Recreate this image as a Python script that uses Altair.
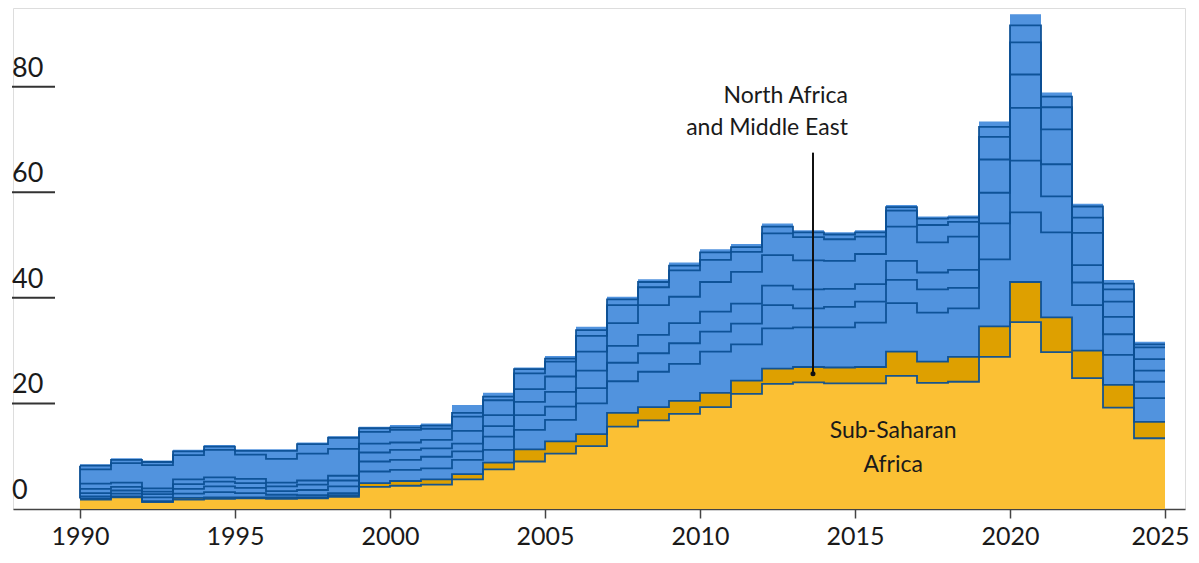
import altair as alt
import pandas as pd

years = list(range(1990, 2025))

# cumulative boundaries (top to bottom)
top = [8.5, 9.6, 9.2, 11.2, 12.1, 11.3, 11.3, 12.6, 13.8, 15.6, 15.9, 16.2, 19.7, 22.0, 26.8, 29.0, 34.5,
       40.2, 43.5, 46.7, 49.2, 50.2, 54.1, 52.8, 52.4, 52.8, 57.6, 55.4, 55.6, 73.4, 93.7, 78.9, 57.8, 43.4, 31.7]
l6 = [8.2, 9.3, 8.9, 10.9, 11.8, 11.0, 11.0, 12.3, 13.5, 15.3, 15.4, 15.8, 18.2, 21.3, 26.5, 28.5, 33.9,
      39.7, 43.0, 46.1, 48.6, 49.6, 53.5, 52.4, 52.0, 52.4, 57.2, 55.0, 55.2, 72.4, 91.6, 78.1, 57.3, 42.7, 31.2]
l5 = [7.5, 8.7, 8.3, 10.2, 11.2, 10.3, 9.5, 10.5, 11.4, 14.6, 15.0, 15.2, 17.5, 20.6, 25.7, 27.9, 32.8,
      38.6, 42.0, 45.2, 47.2, 48.7, 52.2, 51.5, 51.1, 51.6, 56.5, 53.8, 54.4, 70.5, 88.4, 76.1, 55.2, 41.6, 30.6]
l4 = [4.8, 5.0, 3.9, 5.6, 6.0, 5.7, 5.0, 5.4, 6.3, 12.4, 12.6, 13.1, 14.8, 17.8, 22.7, 25.1, 29.8,
      35.2, 38.6, 40.2, 43.0, 44.9, 48.1, 47.1, 47.0, 48.3, 53.5, 50.5, 51.6, 66.2, 82.3, 71.9, 52.3, 39.3, 28.4]
l3 = [3.8, 4.2, 3.3, 4.7, 5.2, 4.9, 4.3, 4.6, 5.4, 10.7, 11.2, 11.5, 12.4, 15.7, 20.3, 22.2, 26.2,
      30.9, 33.0, 35.2, 37.4, 38.9, 42.3, 41.6, 41.7, 42.6, 47.0, 44.8, 45.3, 59.9, 76.0, 65.3, 46.2, 36.4, 26.2]
l2 = [3.0, 3.5, 2.8, 3.8, 4.3, 4.0, 3.4, 3.6, 4.3, 9.0, 9.3, 9.9, 10.9, 13.7, 17.8, 19.4, 22.9,
      27.7, 29.5, 31.4, 33.6, 35.1, 38.6, 38.0, 38.3, 39.3, 43.4, 41.6, 41.9, 54.1, 66.0, 59.2, 42.9, 33.1, 24.1]
l1 = [2.4, 2.9, 2.2, 2.9, 3.2, 3.0, 2.7, 2.6, 3.0, 7.1, 7.4, 7.7, 9.3, 11.2, 15.0, 16.9, 20.0,
      24.2, 26.0, 27.5, 29.8, 31.2, 34.2, 34.4, 34.4, 35.3, 39.0, 37.2, 38.0, 47.3, 56.2, 52.4, 38.6, 29.2, 21.0]
dark_yellow_top = [2.0, 2.4, 1.5, 2.1, 2.2, 2.2, 2.2, 2.2, 2.6, 4.9, 5.3, 5.6, 6.6, 8.8, 11.3, 12.8, 14.2,
                   18.2, 19.3, 20.5, 22.0, 24.3, 26.6, 26.9, 26.8, 26.9, 29.8, 27.9, 28.8, 34.6, 43.0, 36.3, 30.0, 23.5, 16.5]
yellow_top = [1.8, 2.2, 1.3, 1.8, 1.9, 2.0, 1.9, 2.0, 2.3, 4.2, 4.4, 4.6, 5.6, 7.5, 9.0, 10.5, 11.9,
              15.6, 16.8, 18.0, 19.3, 21.8, 23.7, 24.0, 23.8, 23.8, 25.2, 23.9, 24.1, 28.8, 35.4, 29.7, 24.8, 19.2, 13.4]

x_ticks = [1990, 1995, 2000, 2005, 2010, 2015, 2020, 2025]
y_ticks = [0, 20, 40, 60, 80]
y_tick_labels = ["0", "20", "40", "60", "80"]
label_nafme = ["North Africa", "and Middle East"]
label_ssa = ["Sub-Saharan", "Africa"]

BLUE = "#5193de"
DARK = "#0b4f94"
YEL = "#fbc034"
DYEL = "#dea000"
FONT = "Lato"
TXT = "#1a1a1a"

cols = {"T": top, "L6": l6, "L5": l5, "L4": l4, "L3": l3, "L2": l2, "L1": l1,
        "D": dark_yellow_top, "Y": yellow_top}
df = pd.DataFrame({"year": years, **cols})
# the last step runs to the end of 2024
last = df.iloc[[-1]].copy()
last["year"] = 2025
df = pd.concat([df, last], ignore_index=True)

long = df.melt(id_vars="year", value_vars=["L1", "L2", "L3", "L4", "L5", "L6", "D", "Y"],
               var_name="series", value_name="v")

xs = alt.Scale(domain=[1987.839, 2025.645], nice=False, zero=False)
ys = alt.Scale(domain=[0, 94.9], nice=False)

xaxis = alt.Axis(values=x_ticks, format="d", title=None, grid=False, labelFontSize=25,
                 labelFont=FONT, labelColor=TXT, tickSize=9, tickColor="#444", tickWidth=1.5,
                 domainColor="#444", domainWidth=1.5, labelPadding=6, labelFlush=False,
                 labelOffset={"condition": {"test": "datum.value == 2025", "value": -5}, "value": 0})

base = alt.Chart(df)

area_top = base.mark_area(interpolate="step-after", color=BLUE).encode(
    x=alt.X("year:Q", scale=xs, axis=xaxis), y=alt.Y("T:Q", scale=ys, axis=None))
area_d = base.mark_area(interpolate="step-after", color=DYEL).encode(
    x=alt.X("year:Q", scale=xs), y=alt.Y("D:Q", scale=ys))
area_y = base.mark_area(interpolate="step-after", color=YEL).encode(
    x=alt.X("year:Q", scale=xs), y=alt.Y("Y:Q", scale=ys))

lines = alt.Chart(long).mark_line(interpolate="step-after", color=DARK, strokeWidth=1.8,
                                  opacity=0.95).encode(
    x=alt.X("year:Q", scale=xs), y=alt.Y("v:Q", scale=ys), detail="series:N")

first = alt.Chart(df.iloc[[0]]).mark_rule(color=DARK, strokeWidth=1.8).encode(
    x=alt.X("year:Q", scale=xs), y=alt.Y("D:Q", scale=ys), y2="L6:Q")

ylab_df = pd.DataFrame({"v": y_ticks, "label": y_tick_labels})
ylabels = alt.Chart(ylab_df).mark_text(align="left", baseline="alphabetic", dy=-10,
                                       fontSize=27, font=FONT, color=TXT).encode(
    x=alt.value(-1), y=alt.Y("v:Q", scale=ys), text="label:N")
ulines = alt.Chart(ylab_df[ylab_df["v"] > 0]).mark_rule(color="#333", strokeWidth=2).encode(
    x=alt.value(-1), x2=alt.value(42), y=alt.Y("v:Q", scale=ys))

ann_df = pd.DataFrame({"x": [2014.77, 2014.77], "y": [78.3, 72.2], "t": label_nafme})
ann = alt.Chart(ann_df).mark_text(align="right", baseline="middle", fontSize=23,
                                  font=FONT, color=TXT).encode(
    x=alt.X("x:Q", scale=xs), y=alt.Y("y:Q", scale=ys), text="t:N")

ssa_df = pd.DataFrame({"x": [2016.23, 2016.23], "y": [14.7, 8.4], "t": label_ssa})
ssa = alt.Chart(ssa_df).mark_text(align="center", baseline="middle", fontSize=23,
                                  font=FONT, color=TXT).encode(
    x=alt.X("x:Q", scale=xs), y=alt.Y("y:Q", scale=ys), text="t:N")

lead_df = pd.DataFrame({"x": [2013.645], "y": [67.5], "y2": [25.6]})
leader = alt.Chart(lead_df).mark_rule(color="#111", strokeWidth=2).encode(
    x=alt.X("x:Q", scale=xs), y=alt.Y("y:Q", scale=ys), y2="y2:Q")
dot = alt.Chart(lead_df).mark_point(filled=True, color="#111", size=25, opacity=1).encode(
    x=alt.X("x:Q", scale=xs), y=alt.Y("y2:Q", scale=ys))

chart = alt.layer(area_top, area_d, area_y, lines, first, ylabels, ulines, ann, ssa, leader, dot).properties(
    width=1172, height=501,
    autosize=alt.AutoSizeParams(type="none"),
    padding={"left": 5, "top": 0, "right": 6, "bottom": 42}
).configure_view(stroke=None).configure(background="white")

chart.save("out.html", embed_options={"renderer": "svg", "actions": False})
